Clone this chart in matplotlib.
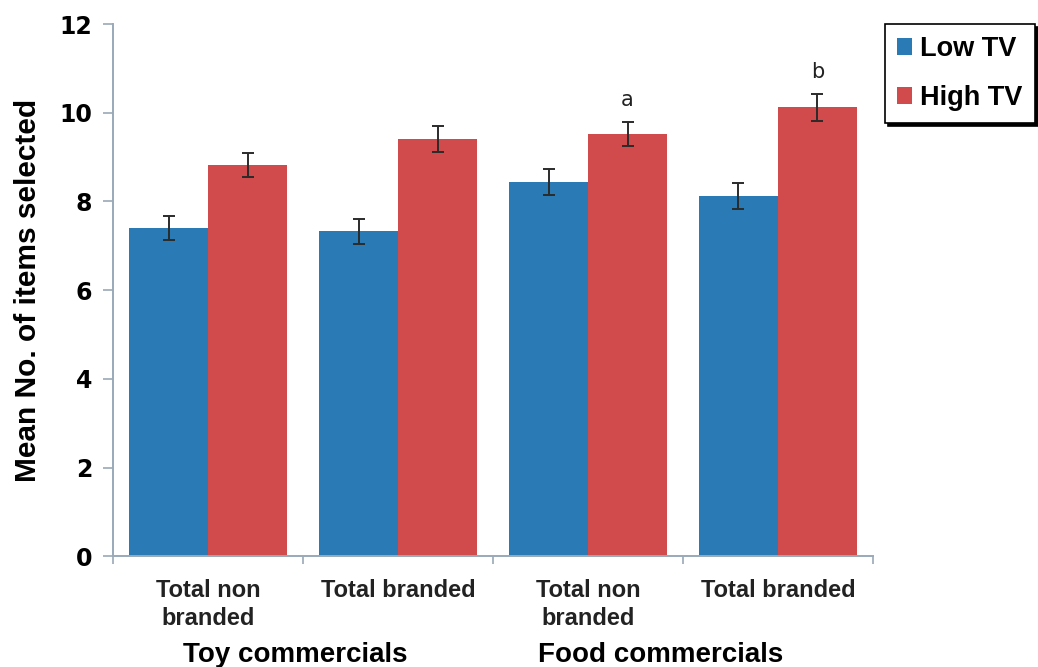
import numpy as np
import matplotlib.pyplot as plt
from matplotlib.transforms import blended_transform_factory

# bar groups and values
categories = ['Total non\nbranded', 'Total branded', 'Total non\nbranded', 'Total branded']
groups = ['Toy commercials', 'Food commercials']
group_pos = [0.46, 2.38]
low_tv = [7.41, 7.33, 8.44, 8.13]
high_tv = [8.82, 9.41, 9.52, 10.12]
low_err = [0.27, 0.28, 0.30, 0.29]
high_err = [0.27, 0.29, 0.27, 0.30]
sig_marks = ['', '', 'a', 'b']

blue = '#2a7bb5'
red = '#d24b4c'
axis_col = '#9aa9b8'
sans = ['Liberation Sans', 'DejaVu Sans']

fig = plt.figure(figsize=(10.38, 6.67), dpi=100)
ax = fig.add_axes([0.109, 0.166, 0.732, 0.798])

x = np.arange(len(categories))
w = 0.416
ekw = dict(ecolor='#2b2b2b', elinewidth=1.4, capthick=1.4)
ax.bar(x - w / 2, low_tv, w, color=blue, label='Low TV',
       yerr=low_err, capsize=4.5, error_kw=ekw)
ax.bar(x + w / 2, high_tv, w, color=red, label='High TV',
       yerr=high_err, capsize=4.5, error_kw=ekw)

# significance letters above the High TV bars
for i, m in enumerate(sig_marks):
    if m:
        ax.text(x[i] + w / 2, high_tv[i] + high_err[i] + 0.28, m,
                ha='center', va='bottom', fontsize=15, color='#222222')

ax.set_xlim(-0.5, 3.5)
ax.set_ylim(0, 12)
ax.set_yticks(range(0, 13, 2))
for lab in ax.get_yticklabels():
    lab.set_fontweight('bold')
    lab.set_fontsize(17)
ax.tick_params(axis='y', length=7, width=1.2, color=axis_col, pad=8)

ax.set_xticks(x)
ax.set_xticklabels(categories, fontsize=17, fontweight='bold',
                   family=sans, color='#222222', linespacing=1.3)
ax.set_xticks(np.arange(-0.5, 4, 1), minor=True)
ax.tick_params(axis='x', which='major', length=0, pad=16)
ax.tick_params(axis='x', which='minor', length=6, width=1.2, color=axis_col)

for s in ['top', 'right']:
    ax.spines[s].set_visible(False)
for s in ['left', 'bottom']:
    ax.spines[s].set_color(axis_col)
    ax.spines[s].set_linewidth(1.4)

ax.set_ylabel('Mean No. of items selected', fontsize=21.5, fontweight='bold',
              family=sans)
ax.yaxis.set_label_coords(-0.093, 0.5)

trans = blended_transform_factory(ax.transData, fig.transFigure)
for g, gx in zip(groups, group_pos):
    ax.text(gx, 0.018, g, transform=trans, ha='center', va='center',
            fontsize=20, fontweight='bold', family=sans)

leg = fig.legend(loc='upper left', bbox_to_anchor=(0.8526, 0.964),
                 prop={'family': sans, 'weight': 'bold', 'size': 19.5},
                 handlelength=0.55, handleheight=0.55, handletextpad=0.3,
                 labelspacing=0.85, borderpad=0.45, borderaxespad=0,
                 fancybox=False, framealpha=1, edgecolor='black',
                 shadow={'color': 'black', 'alpha': 1})
leg.get_frame().set_linewidth(1.2)

fig.savefig('out.png', dpi=100)
